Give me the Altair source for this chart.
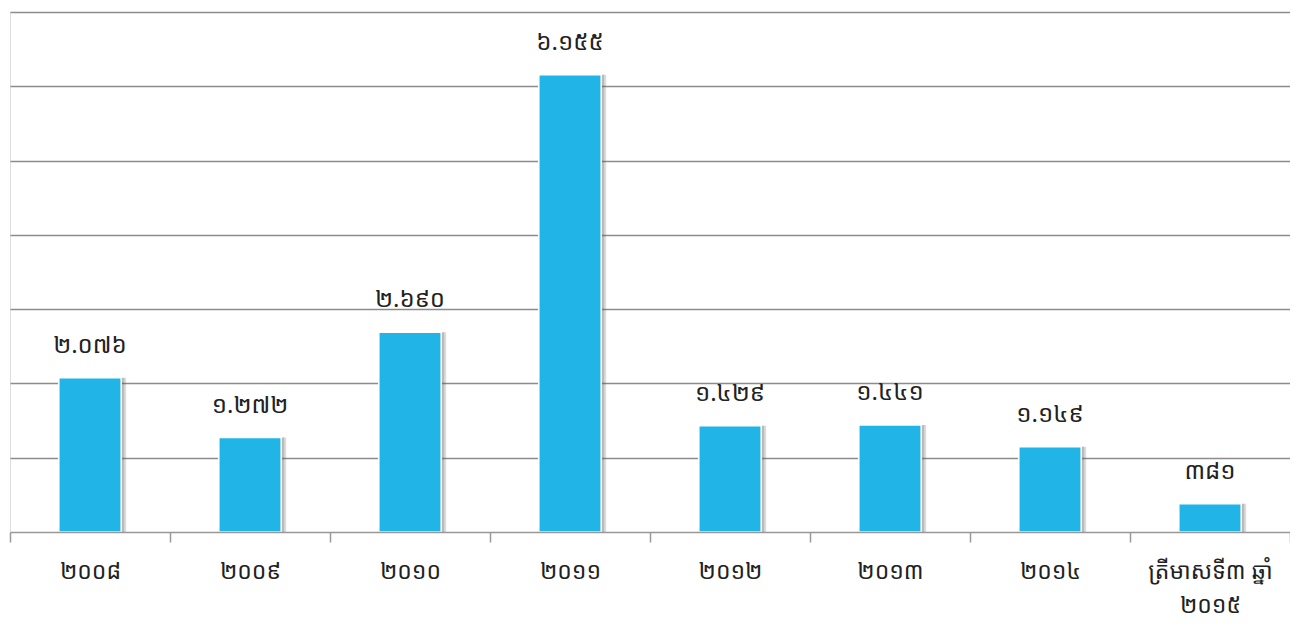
import altair as alt
import pandas as pd

categories = ["២០០៨", "២០០៩", "២០១០", "២០១១", "២០១២", "២០១៣", "២០១៤", "ត្រីមាសទី៣ ឆ្នាំ\n២០១៥"]
values = [2076, 1272, 2690, 6155, 1429, 1441, 1149, 381]
value_labels = ["២.០៧៦", "១.២៧២", "២.៦៩០", "៦.១៥៥", "១.៤២៩", "១.៤៤១", "១.១៤៩", "៣៨១"]

df = pd.DataFrame({"cat": categories, "val": values, "lab": value_labels})

FONT = "Noto Sans Khmer, Khmer OS, Khmer OS System, DejaVu Sans, sans-serif"
BAR_W = alt.RelativeBandSize(0.39)

x = alt.X("cat:N", sort=categories, title=None,
          scale=alt.Scale(paddingInner=0, paddingOuter=0),
          axis=alt.Axis(labelAngle=0, labelFontSize=23, labelColor="#222",
                        labelFont=FONT, labelPadding=18, labelLineHeight=34,
                        labelExpr="split(datum.label, '\\n')",
                        tickBand="extent", tickSize=10, tickColor="#999",
                        tickWidth=1.5, domainColor="#999", domainWidth=1.5,
                        grid=False, zindex=1))
y = alt.Y("val:Q", title=None,
          scale=alt.Scale(domain=[0, 7000], nice=False),
          axis=alt.Axis(labels=False, ticks=False, domain=False,
                        values=[1000, 2000, 3000, 4000, 5000, 6000, 7000],
                        gridColor="#8c8c8c", gridWidth=1.5))

base = alt.Chart(df)

shadow1 = base.mark_bar(color="#555555", opacity=0.25, xOffset=3, width=BAR_W).encode(x=x, y=y)
shadow2 = base.mark_bar(color="#555555", opacity=0.2, xOffset=5, width=BAR_W).encode(x=x, y=y)
bars = base.mark_bar(color="#21B4E6", stroke="white", strokeWidth=1.5, width=BAR_W).encode(x=x, y=y)
text = base.mark_text(dy=-32, fontSize=24, color="#222", font=FONT, fontWeight="normal").encode(
    x=alt.X("cat:N", sort=categories), y="val:Q", text="lab:N")

chart = alt.layer(shadow2, shadow1, bars, text).properties(
    width=1280, height=520,
    padding={"left": 2, "top": 4, "right": 0, "bottom": 92},
    autosize=alt.AutoSizeParams(type="none"),
).configure_view(stroke=None).configure(background="white")

chart.save("out.html", embed_options={"renderer": "svg", "actions": False})
